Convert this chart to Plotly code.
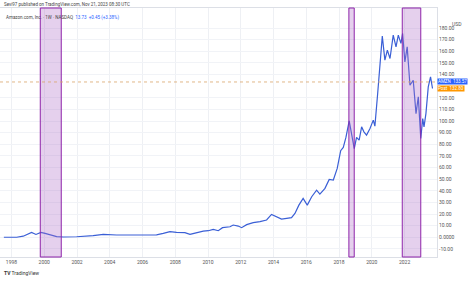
import plotly.graph_objects as go

dates = ["1997-07-15","1998-04-27","1998-09-20","1999-03-25","1999-07-01","1999-10-20","2000-01-20","2000-05-08",
"2000-10-05","2001-03-01","2001-12-25","2002-12-28","2003-08-10","2004-06-02","2005-06-10","2006-04-01",
"2006-11-10","2007-04-08","2007-09-05","2008-01-30","2008-08-03","2008-11-25","2009-04-20","2009-09-16",
"2010-01-08","2010-04-27","2010-08-18","2010-11-20","2011-05-05","2011-07-16","2011-11-06","2012-01-20",
"2012-05-12","2012-10-05","2013-03-04","2013-07-30","2013-11-17","2014-03-10","2014-06-28","2014-10-20",
"2015-02-06","2015-04-23","2015-07-20","2015-10-23","2016-01-23","2016-05-01","2016-08-18","2016-10-30",
"2017-02-21","2017-05-26","2017-08-26","2017-11-21","2018-02-06","2018-04-05","2018-06-03","2018-08-15",
"2018-10-08","2018-12-06","2019-01-26","2019-03-25","2019-05-19","2019-07-09","2019-09-06","2019-11-22",
"2020-02-03","2020-03-10","2020-05-11","2020-07-01","2020-08-22","2020-10-19","2020-12-13","2021-02-10",
"2021-04-23","2021-06-24","2021-08-14","2021-10-12","2021-11-18","2022-01-08","2022-02-28","2022-05-01",
"2022-07-13","2022-09-13","2022-11-03","2022-12-28","2023-02-10","2023-03-10","2023-04-22","2023-06-13",
"2023-08-03","2023-09-16"]
prices = [0.1,0.1,1.0,4.3,2.5,4.3,3.4,2.0,
0.6,0.3,0.5,1.5,2.5,2.0,2.2,2.0,
2.2,3.4,4.9,4.3,4.0,2.5,4.0,5.4,
5.7,6.9,5.7,8.3,9.1,10.6,9.7,8.3,
10.9,12.6,13.5,14.9,19.7,17.4,15.7,16.3,
16.9,20.6,27.7,33.5,27.7,34.9,40.6,37.2,
42.1,49.8,49.3,59.3,74.5,77.3,85.9,100.2,
87.9,76.2,85.9,83.6,95.0,90.7,87.9,93.6,
100.8,95.6,123.7,146.7,173.0,152.4,161.0,153.8,
173.9,163.8,173.9,166.8,175.3,150.9,163.8,130.8,
135.1,106.4,120.8,85.0,102.2,95.0,106.4,129.4,
138.0,128.0]

zones_start = ["1999-10-05","2018-08-08","2021-11-10"]
zones_end = ["2001-01-15","2018-12-05","2022-12-28"]

price_level = 133.6
post_level = 128.3
ytick_vals = [v for v in range(-10, 190, 10) if v != 130]
ytick_text = [("0.0000" if v == 0 else f"{v:.2f}") for v in ytick_vals]
xtick_vals = [f"{y}-01-01" for y in range(1998, 2025, 2)]
xtick_text = [str(y) for y in range(1998, 2025, 2)]

fig = go.Figure()
fig.add_trace(go.Scatter(x=dates, y=prices, mode="lines",
                         line=dict(color="#3a5fd6", width=1.2), hoverinfo="skip"))

for s, e in zip(zones_start, zones_end):
    fig.add_shape(type="rect", xref="x", yref="paper", x0=s, x1=e, y0=0, y1=1,
                  fillcolor="rgba(175,110,200,0.32)", line=dict(color="#8e24aa", width=1), layer="above")

fig.add_shape(type="line", xref="paper", yref="y", x0=0, x1=1, y0=price_level, y1=price_level,
              line=dict(color="#d9a36a", width=0.8, dash="dot"))

fig.update_layout(
    width=468, height=281,
    margin=dict(l=0, r=31, t=8, b=24),
    paper_bgcolor="white", plot_bgcolor="white",
    showlegend=False,
    font=dict(family="Roboto, DejaVu Sans, sans-serif", size=5, color="#555"),
    xaxis=dict(range=["1997-04-20", "2023-12-25"], tickvals=xtick_vals, ticktext=xtick_text,
               showgrid=True, gridcolor="#eef0f4", gridwidth=1, zeroline=False,
               showline=True, linecolor="#dcdfe6", mirror=True, ticks="", ticklen=0,
               tickfont=dict(size=5, color="#555")),
    yaxis=dict(range=[-16.9, 197.2], side="right", tickvals=ytick_vals, ticktext=ytick_text,
               showgrid=True, gridcolor="#f1f3f7", gridwidth=1, zeroline=False,
               showline=True, linecolor="#dcdfe6", mirror=True, ticks="",
               tickfont=dict(size=5, color="#555")),
)

fig.add_annotation(xref="paper", yref="paper", x=1.045, y=0.955, text="USD", showarrow=False,
                   font=dict(size=5, color="#555"), xanchor="center")
fig.add_annotation(xref="paper", yref="y", x=1.0, y=price_level, xanchor="left", yanchor="middle",
                   text="AMZN  133.57", showarrow=False, bgcolor="#2962ff",
                   font=dict(size=4.5, color="white"), borderpad=0)
fig.add_annotation(xref="paper", yref="y", x=1.0, y=post_level, xanchor="left", yanchor="middle",
                   text="Post  132.80", showarrow=False, bgcolor="#ff9800",
                   font=dict(size=4.5, color="white"), borderpad=0)

fig.add_annotation(xref="paper", yref="paper", x=0.005, y=1.0, yshift=4, xanchor="left", yanchor="middle",
                   text="Sevi97 published on TradingView.com, Nov 21, 2023 08:30 UTC", showarrow=False,
                   font=dict(size=4.5, color="#444"))
fig.add_annotation(xref="paper", yref="paper", x=0.01, y=0.985, xanchor="left", yanchor="top",
                   text="Amazon.com, Inc. · 1W · NASDAQ  <span style='color:#2962ff'>13.73  +0.45 (+3.38%)</span>",
                   showarrow=False, font=dict(size=4.5, color="#444"))
fig.add_annotation(xref="paper", yref="paper", x=0.005, y=0, yshift=-16, xanchor="left", yanchor="middle",
                   text="<b>TV</b> TradingView", showarrow=False, font=dict(size=5, color="#333"))

fig.write_html("out.html")
